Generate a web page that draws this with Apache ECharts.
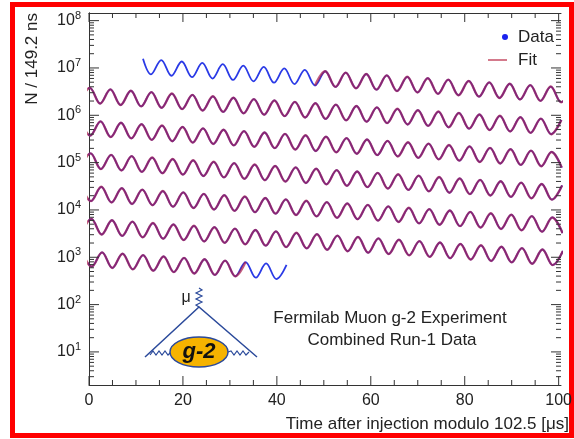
<!DOCTYPE html>
<html><head><meta charset="utf-8">
<script src="https://cdn.jsdelivr.net/npm/echarts@6/dist/echarts.min.js"></script>
<style>html,body{margin:0;padding:0;background:#fff}#c{width:574px;height:439px}</style>
</head><body><div id="c"></div>
<script>
// Wiggle rows (time modulo 102.5 us), points read at the extrema: [time (us), N per 149.2 ns]
const row1 = [[11.5,1.56e7],[13.20,7.33e6],[15.38,1.47e7],[17.56,6.85e6],[19.74,1.37e7],[21.93,6.40e6],[24.11,1.28e7],[26.29,5.98e6],[28.47,1.20e7],[30.66,5.59e6],[32.84,1.12e7],[35.02,5.22e6],[37.20,1.05e7],[39.39,4.88e6],[41.57,9.77e6],[43.75,4.56e6],[45.93,9.13e6],[48.12,4.26e6],[50.30,8.53e6],[52.48,3.98e6],[54.66,7.97e6],[56.85,3.72e6],[59.03,7.45e6],[61.21,3.48e6],[63.39,6.96e6],[65.58,3.25e6],[67.76,6.51e6],[69.94,3.04e6],[72.12,6.08e6],[74.31,2.84e6],[76.49,5.68e6],[78.67,2.65e6],[80.85,5.31e6],[83.04,2.48e6],[85.22,4.96e6],[87.40,2.32e6],[89.58,4.64e6],[91.77,2.16e6],[93.95,4.33e6],[96.13,2.02e6],[98.31,4.05e6],[100.50,1.89e6],[102.68,3.78e6]];
const row2 = [[-2.00,1.90e6],[0.18,3.80e6],[2.37,1.77e6],[4.55,3.53e6],[6.73,1.65e6],[8.91,3.30e6],[11.10,1.54e6],[13.28,3.09e6],[15.46,1.44e6],[17.64,2.88e6],[19.83,1.35e6],[22.01,2.70e6],[24.19,1.26e6],[26.37,2.52e6],[28.56,1.18e6],[30.74,2.35e6],[32.92,1.10e6],[35.10,2.20e6],[37.29,1.03e6],[39.47,2.06e6],[41.65,9.60e5],[43.83,1.92e6],[46.02,8.97e5],[48.20,1.80e6],[50.38,8.38e5],[52.56,1.68e6],[54.75,7.83e5],[56.93,1.57e6],[59.11,7.32e5],[61.29,1.47e6],[63.48,6.84e5],[65.66,1.37e6],[67.84,6.39e5],[70.02,1.28e6],[72.21,5.98e5],[74.39,1.20e6],[76.57,5.58e5],[78.75,1.12e6],[80.94,5.22e5],[83.12,1.04e6],[85.30,4.88e5],[87.48,9.76e5],[89.67,4.56e5],[91.85,9.12e5],[94.03,4.26e5],[96.21,8.52e5],[98.40,3.98e5],[100.58,7.96e5]];
const row3 = [[-1.92,7.96e5],[0.27,3.72e5],[2.45,7.44e5],[4.63,3.47e5],[6.81,6.95e5],[9.00,3.25e5],[11.18,6.49e5],[13.36,3.03e5],[15.54,6.07e5],[17.73,2.83e5],[19.91,5.67e5],[22.09,2.65e5],[24.27,5.30e5],[26.46,2.48e5],[28.64,4.95e5],[30.82,2.31e5],[33.00,4.63e5],[35.19,2.16e5],[37.37,4.33e5],[39.55,2.02e5],[41.73,4.04e5],[43.92,1.89e5],[46.10,3.78e5],[48.28,1.76e5],[50.46,3.53e5],[52.65,1.65e5],[54.83,3.30e5],[57.01,1.54e5],[59.19,3.08e5],[61.38,1.44e5],[63.56,2.88e5],[65.74,1.35e5],[67.92,2.69e5],[70.11,1.26e5],[72.29,2.52e5],[74.47,1.17e5],[76.65,2.35e5],[78.84,1.10e5],[81.02,2.20e5],[83.20,1.03e5],[85.38,2.05e5],[87.57,9.59e4],[89.75,1.92e5],[91.93,8.96e4],[94.11,1.79e5],[96.30,8.37e4],[98.48,1.68e5],[100.66,7.82e4]];
const row4 = [[-1.84,7.82e4],[0.35,1.57e5],[2.53,7.31e4],[4.71,1.46e5],[6.90,6.83e4],[9.08,1.37e5],[11.26,6.38e4],[13.44,1.28e5],[15.63,5.97e4],[17.81,1.19e5],[19.99,5.58e4],[22.17,1.12e5],[24.36,5.21e4],[26.54,1.04e5],[28.72,4.87e4],[30.90,9.74e4],[33.09,4.55e4],[35.27,9.11e4],[37.45,4.25e4],[39.63,8.51e4],[41.82,3.98e4],[44.00,7.95e4],[46.18,3.71e4],[48.36,7.43e4],[50.55,3.47e4],[52.73,6.94e4],[54.91,3.24e4],[57.09,6.49e4],[59.28,3.03e4],[61.46,6.06e4],[63.64,2.83e4],[65.82,5.67e4],[68.01,2.65e4],[70.19,5.30e4],[72.37,2.47e4],[74.55,4.95e4],[76.74,2.31e4],[78.92,4.63e4],[81.10,2.16e4],[83.28,4.32e4],[85.47,2.02e4],[87.65,4.04e4],[89.83,1.89e4],[92.01,3.77e4],[94.20,1.76e4],[96.38,3.53e4],[98.56,1.65e4],[100.74,3.30e4]];
const row5 = [[-1.75,3.30e4],[0.43,1.54e4],[2.61,3.08e4],[4.80,1.44e4],[6.98,2.88e4],[9.16,1.34e4],[11.34,2.69e4],[13.53,1.26e4],[15.71,2.51e4],[17.89,1.17e4],[20.07,2.35e4],[22.26,1.10e4],[24.44,2.19e4],[26.62,1.02e4],[28.80,2.05e4],[30.99,9.57e3],[33.17,1.92e4],[35.35,8.95e3],[37.53,1.79e4],[39.72,8.36e3],[41.90,1.67e4],[44.08,7.81e3],[46.26,1.56e4],[48.45,7.30e3],[50.63,1.46e4],[52.81,6.82e3],[54.99,1.37e4],[57.18,6.38e3],[59.36,1.28e4],[61.54,5.96e3],[63.72,1.19e4],[65.91,5.57e3],[68.09,1.11e4],[70.27,5.20e3],[72.45,1.04e4],[74.64,4.86e3],[76.82,9.73e3],[79.00,4.54e3],[81.18,9.09e3],[83.37,4.25e3],[85.55,8.50e3],[87.73,3.97e3],[89.91,7.94e3],[92.10,3.71e3],[94.28,7.42e3],[96.46,3.47e3],[98.64,6.94e3],[100.83,3.24e3]];
const row6 = [[-1.67,3.24e3],[0.51,6.48e3],[2.70,3.03e3],[4.88,6.05e3],[7.06,2.83e3],[9.24,5.66e3],[11.43,2.64e3],[13.61,5.29e3],[15.79,2.47e3],[17.97,4.94e3],[20.16,2.31e3],[22.34,4.62e3],[24.52,2.16e3],[26.70,4.32e3],[28.89,2.02e3],[31.07,4.03e3],[33.25,1.88e3],[35.43,3.77e3],[37.62,1.76e3],[39.80,3.52e3],[41.98,1.64e3],[44.16,3.29e3],[46.35,1.54e3],[48.53,3.07e3],[50.71,1.44e3],[52.89,2.87e3],[55.08,1.34e3],[57.26,2.69e3],[59.44,1.25e3],[61.62,2.51e3],[63.81,1.17e3],[65.99,2.35e3],[68.17,1.10e3],[70.35,2.19e3],[72.54,1.02e3],[74.72,2.05e3],[76.90,956],[79.08,1.91e3],[81.27,894],[83.45,1.79e3],[85.63,835],[87.81,1.67e3],[90.00,780],[92.18,1.56e3],[94.36,729],[96.54,1.46e3],[98.73,682],[100.91,1.36e3]];
const row7 = [[-1.59,1.36e3],[0.60,637],[2.78,1.27e3],[4.96,595],[7.14,1.19e3],[9.33,556],[11.51,1.11e3],[13.69,520],[15.87,1.04e3],[18.06,486],[20.24,972],[22.42,454],[24.60,908],[26.79,424],[28.97,849],[31.15,396],[33.33,793],[35.52,370],[37.70,741],[39.88,346],[42.06,693]];
// Fit coverage per row: row 1 from t = 48.1 us, row 7 up to t = 33.3 us
const fitRow1Start = 48.1, fitRow7End = 33.4;
const xMin = 0, xMax = 100.5, yMin = 2, yMax = 1.45e8;
const xTickStep = 5, xMajorStep = 20;
const yMinorMantissas = [2,3,4,5,6,7,8,9];

const FONT = 'Liberation Sans';
const axisCol = '#333';
const chart = echarts.init(document.getElementById('c'), null, {renderer:'canvas'});

// tick values (drawn through the axes' own scales)
const yTicks = [];
for (let d = 0; d <= 8; d++) for (const m of yMinorMantissas.concat([1])) { const v = m*Math.pow(10,d); if (v>yMin && v<yMax) yTicks.push([v, m===1 ? 1 : 0]); }
const xTicks = [];
for (let v = xMin; v <= xMax; v += xTickStep) xTicks.push([v, v % xMajorStep === 0 ? 1 : 0]);

const supLabel = v => { const e = Math.log10(v); const n = Math.round(e); if (Math.abs(e-n) > 1e-6) return ''; return '{b|10}{s|' + n + '}'; };

const dataRows = [row1,row2,row3,row4,row5,row6,row7];
const fitRows = [row1.filter(p=>p[0]>=fitRow1Start), row2, row3, row4, row5, row6, row7.filter(p=>p[0]<=fitRow7End)];
const dataSeries = dataRows.map(r => ({name:'Data', type:'line', data:r, smooth:0.36, showSymbol:false, symbol:'circle', symbolSize:5,
  lineStyle:{color:'#2a3ae6', width:1.8}, itemStyle:{color:'#1a22ee'}, z:2, silent:true}));
const fitSeries = fitRows.map(r => ({name:'Fit', type:'line', data:r, smooth:0.36, showSymbol:false,
  lineStyle:{color:'rgba(170,30,75,0.72)', width:2.4}, itemStyle:{color:'#d47a8c'}, z:3, silent:true}));

const tickSt = {stroke:axisCol, lineWidth:1};
const tickSeries = [
  {type:'custom', coordinateSystem:'cartesian2d', silent:true, clip:false, z:6,
   data:yTicks.map(t=>[xMin,t[0],t[1]]),
   renderItem:(params, api) => {
     const v = api.value(1), len = api.value(2) ? 10 : 5;
     const pl = api.coord([xMin, v]), pr = api.coord([xMax, v]);
     return {type:'group', children:[
       {type:'line', shape:{x1:pl[0],y1:pl[1],x2:pl[0]+len,y2:pl[1]}, style:tickSt},
       {type:'line', shape:{x1:pr[0],y1:pr[1],x2:pr[0]-len,y2:pr[1]}, style:tickSt}]};
   }},
  {type:'custom', coordinateSystem:'cartesian2d', silent:true, clip:false, z:6,
   data:xTicks.map(t=>[t[0],yMin,t[1]]),
   renderItem:(params, api) => {
     const v = api.value(0), len = api.value(2) ? 9 : 5;
     const pb = api.coord([v, yMin]), pt = api.coord([v, yMax]);
     return {type:'group', children:[
       {type:'line', shape:{x1:pb[0],y1:pb[1],x2:pb[0],y2:pb[1]-len}, style:tickSt},
       {type:'line', shape:{x1:pt[0],y1:pt[1],x2:pt[0],y2:pt[1]+len}, style:tickSt}]};
   }}
];

const xAxisCommon = {type:'value', min:xMin, max:xMax, interval:20,
  axisLine:{show:true,lineStyle:{color:axisCol,width:1}}, splitLine:{show:false},
  axisTick:{show:false}, minorTick:{show:false}};
const yAxisCommon = {type:'log', logBase:10, min:yMin, max:yMax,
  axisLine:{show:true,lineStyle:{color:axisCol,width:1}}, splitLine:{show:false},
  axisTick:{show:false}, minorTick:{show:false}};

chart.setOption({
  animation:false,
  backgroundColor:'#fff',
  grid:{left:89, top:13, right:13, bottom:54, outerBoundsMode:'none', containLabel:false},
  xAxis:[
    Object.assign({}, xAxisCommon, {position:'bottom',
      axisLabel:{fontSize:16,fontFamily:FONT,color:'#222',margin:8,formatter:v => (v%20===0 ? String(v) : '')}}),
    Object.assign({}, xAxisCommon, {position:'top', axisLabel:{show:false}})
  ],
  yAxis:[
    Object.assign({}, yAxisCommon, {position:'left',
      axisLabel:{fontFamily:FONT,color:'#222',margin:8,showMinLabel:false,showMaxLabel:false,formatter:supLabel,
        rich:{b:{fontSize:16,fontFamily:FONT,color:'#222'}, s:{fontSize:11,fontFamily:FONT,color:'#222',padding:[0,0,10,0]}}}}),
    Object.assign({}, yAxisCommon, {position:'right', axisLabel:{show:false}})
  ],
  legend:[
    {data:[{name:'Data',icon:'circle',itemStyle:{color:'#1a22ee'}}], left:502, top:27, orient:'vertical', itemWidth:6, itemHeight:6, padding:0, selectedMode:false,
     textStyle:{fontSize:17,fontFamily:FONT,color:'#222',lineHeight:20,padding:[0,0,0,5]}},
    {data:[{name:'Fit',icon:'rect',itemStyle:{color:'#d47a8c'}}], left:488, top:50, orient:'vertical', itemWidth:19, itemHeight:2, padding:0, selectedMode:false,
     textStyle:{fontSize:17,fontFamily:FONT,color:'#222',lineHeight:20,padding:[0,0,0,6]}}
  ],
  series: dataSeries.concat(fitSeries, tickSeries),
  graphic:[
    {type:'rect', shape:{x:12.5,y:4.5,width:559,height:431}, style:{fill:'none',stroke:'#ff0000',lineWidth:5}, silent:true},
    {type:'text', x:569, y:424, style:{text:'Time after injection modulo 102.5 [μs]', font:'17px "Liberation Sans"', fill:'#222', textAlign:'right', textVerticalAlign:'middle'}},
    {type:'text', x:32, y:13, rotation:Math.PI/2, style:{text:'N / 149.2 ns', font:'17px "Liberation Sans"', fill:'#222', textAlign:'right', textVerticalAlign:'middle'}},
    {type:'text', x:390, y:318, style:{text:'Fermilab Muon g-2 Experiment', font:'17px "Liberation Sans"', fill:'#222', textAlign:'center', textVerticalAlign:'middle'}},
    {type:'text', x:392, y:340, style:{text:'Combined Run-1 Data', font:'17px "Liberation Sans"', fill:'#222', textAlign:'center', textVerticalAlign:'middle'}},
    {type:'polyline', shape:{points:[[145,357],[199,307],[257,357]]}, style:{fill:'none',stroke:'#2b4a9b',lineWidth:1.5}},
    {type:'polyline', shape:{points:[[199,307],[196,305],[202,302],[196,299],[202,296],[196,293],[202,290],[199,288]]}, style:{fill:'none',stroke:'#2b4a9b',lineWidth:1.2}},
    {type:'polyline', shape:{points:[[150,355],[153,351],[156,355],[159,351],[162,355],[165,351],[168,355],[171,352]]}, style:{fill:'none',stroke:'#2b4a9b',lineWidth:1.2}},
    {type:'polyline', shape:{points:[[228,352],[231,351],[234,355],[237,351],[240,355],[243,351],[246,355],[249,352]]}, style:{fill:'none',stroke:'#2b4a9b',lineWidth:1.2}},
    {type:'ellipse', shape:{cx:199,cy:352,rx:29,ry:15}, style:{fill:'#f6b300',stroke:'#2b4a9b',lineWidth:1.5}},
    {type:'text', x:199, y:352, style:{text:'g-2', font:'italic bold 22px "Liberation Sans"', fill:'#111', textAlign:'center', textVerticalAlign:'middle'}},
    {type:'text', x:186, y:298, style:{text:'μ', font:'16px "Liberation Sans"', fill:'#222', textAlign:'center', textVerticalAlign:'middle'}}
  ]
});
</script></body></html>
